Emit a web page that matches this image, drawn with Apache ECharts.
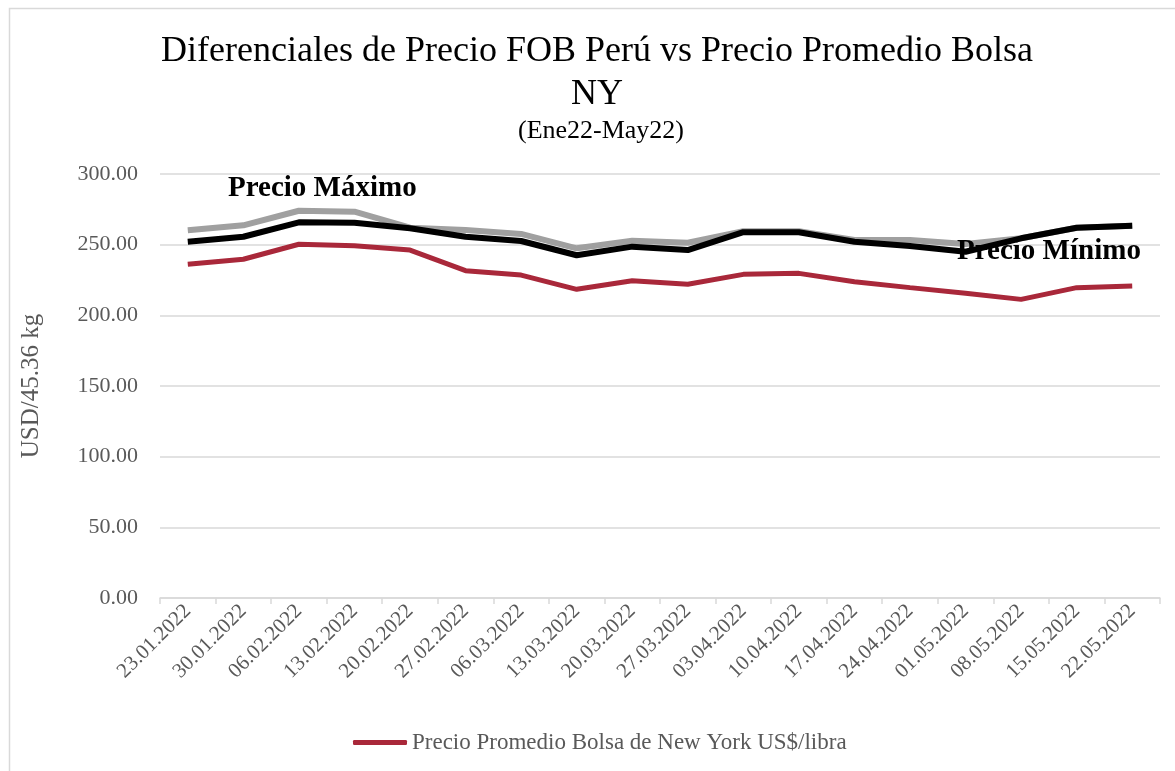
<!DOCTYPE html>
<html>
<head>
<meta charset="utf-8">
<script src="https://cdn.jsdelivr.net/npm/echarts@6/dist/echarts.min.js"></script>
<style>
  html, body { margin: 0; padding: 0; background: #fff; }
  #main { width: 1175px; height: 771px; }
</style>
</head>
<body>
<div id="main"></div>
<script>
var fechas = ['23.01.2022','30.01.2022','06.02.2022','13.02.2022','20.02.2022','27.02.2022',
              '06.03.2022','13.03.2022','20.03.2022','27.03.2022','03.04.2022','10.04.2022',
              '17.04.2022','24.04.2022','01.05.2022','08.05.2022','15.05.2022','22.05.2022'];
var precioMaximo = [260.2, 263.7, 274.0, 273.3, 262.0, 260.4, 257.6, 247.4, 252.8,
                    251.4, 259.5, 259.5, 253.3, 253.3, 250.5, 254.5, 262.0, 263.4];
var precioMinimo = [252.1, 255.6, 265.8, 265.5, 261.6, 255.6, 252.6, 242.5, 248.6,
                    246.2, 258.8, 258.8, 252.1, 249.1, 245.0, 254.5, 262.0, 263.4];
var bolsaNY = [236.1, 239.7, 250.3, 249.3, 246.2, 231.6, 228.5, 218.4, 224.5,
               222.0, 229.0, 229.7, 223.8, 219.6, 215.6, 211.3, 219.6, 220.8];

var fuente = '"Liberation Serif", "DejaVu Serif", serif';
var gris = '#595959';

var myChart = echarts.init(document.getElementById('main'));
myChart.setOption({
    backgroundColor: '#fff',
    textStyle: { fontFamily: fuente },
    title: [
        {
            text: 'Diferenciales de Precio FOB Perú vs Precio Promedio Bolsa\nNY',
            left: 592, top: 25, textAlign: 'center',
            textStyle: { fontFamily: fuente, fontSize: 36, fontWeight: 'normal', color: '#000', lineHeight: 43, align: 'center' }
        },
        {
            text: '(Ene22-May22)',
            left: 596, top: 113, textAlign: 'center',
            textStyle: { fontFamily: fuente, fontSize: 26, fontWeight: 'normal', color: '#000' }
        }
    ],
    graphic: [
        { type: 'rect', left: 7, top: 6, shape: { width: 1300, height: 900 }, silent: true,
          style: { fill: 'none', stroke: '#d9d9d9', lineWidth: 1.5 }, z: -1 },
        { type: 'text', left: 228, top: 174,
          style: { text: 'Precio Máximo', font: 'bold 29px ' + fuente, fill: '#000' } },
        { type: 'text', left: 957, top: 237,
          style: { text: 'Precio Mínimo', font: 'bold 29px ' + fuente, fill: '#000' }, z: 10 }
    ],
    legend: {
        data: ['Precio Promedio Bolsa de New York US$/libra'],
        left: 348, top: 726,
        icon: 'roundRect', itemWidth: 54, itemHeight: 5, itemGap: 6,
        textStyle: { fontFamily: fuente, fontSize: 23, color: gris }
    },
    grid: { left: 160, right: 15, top: 174, bottom: 173, containLabel: false },
    xAxis: {
        type: 'category',
        data: fechas,
        boundaryGap: true,
        axisLine: { lineStyle: { color: '#d9d9d9', width: 1.5 } },
        axisTick: { show: true, interval: 0, length: 6, lineStyle: { color: '#d9d9d9', width: 1.5 } },
        axisLabel: { interval: 0, rotate: 45, margin: 10, fontSize: 21, color: gris, fontFamily: fuente }
    },
    yAxis: {
        type: 'value',
        min: 0, max: 300, interval: 50,
        name: 'USD/45.36 kg',
        nameLocation: 'middle',
        nameGap: 116,
        nameTextStyle: { fontFamily: fuente, fontSize: 25, color: gris },
        axisLine: { show: false },
        axisTick: { show: false },
        axisLabel: { margin: 22, fontSize: 22, color: gris, fontFamily: fuente,
                     formatter: function (v) { return v.toFixed(2); } },
        splitLine: { lineStyle: { color: '#d9d9d9', width: 1.5 } }
    },
    series: [
        {
            name: 'Precio Máximo',
            type: 'line',
            data: precioMaximo,
            symbol: 'none',
            lineStyle: { color: '#a0a0a0', width: 6 },
            itemStyle: { color: '#a0a0a0' },
            z: 2
        },
        {
            name: 'Precio Mínimo',
            type: 'line',
            data: precioMinimo,
            symbol: 'none',
            lineStyle: { color: '#000', width: 6 },
            itemStyle: { color: '#000' },
            z: 3
        },
        {
            name: 'Precio Promedio Bolsa de New York US$/libra',
            type: 'line',
            data: bolsaNY,
            symbol: 'none',
            lineStyle: { color: '#a9283a', width: 5 },
            itemStyle: { color: '#a9283a' },
            z: 4
        }
    ],
    animation: false
});
</script>
</body>
</html>
